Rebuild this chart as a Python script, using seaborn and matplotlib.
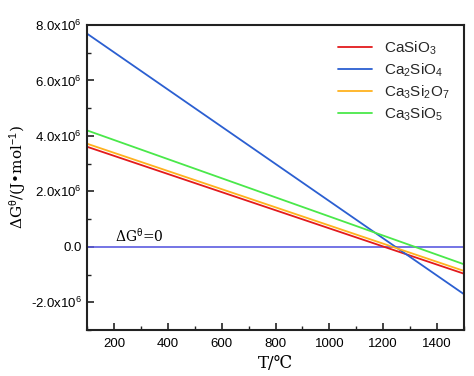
import pandas as pd
import seaborn as sns
import matplotlib.pyplot as plt
from matplotlib.ticker import MultipleLocator, FuncFormatter

# Theme and fonts
sns.set_theme(style="white")
plt.rcParams['font.family'] = ['Liberation Sans', 'DejaVu Sans']
plt.rcParams['mathtext.fontset'] = 'custom'
plt.rcParams['mathtext.rm'] = 'Liberation Sans'
plt.rcParams['mathtext.it'] = 'Liberation Sans'

# Data (straight lines between the end temperatures)
temperature = [100, 1500]
casio3 = [3.61e6, -0.97e6]
ca2sio4 = [7.69e6, -1.71e6]
ca3si2o7 = [3.72e6, -0.87e6]
ca3sio5 = [4.20e6, -0.63e6]

labels = ['CaSiO$_3$', 'Ca$_2$SiO$_4$', 'Ca$_3$Si$_2$O$_7$', 'Ca$_3$SiO$_5$']
series = [casio3, ca2sio4, ca3si2o7, ca3sio5]
colors = ['#e31a1c', '#2b5fd1', '#ffb21f', '#4ae84a']

frames = []
for lab, vals in zip(labels, series):
    frames.append(pd.DataFrame({'T': temperature, 'dG': vals, 'Phase': lab}))
df = pd.concat(frames, ignore_index=True)

fig, ax = plt.subplots(figsize=(4.74, 3.76), dpi=100)

sns.lineplot(data=df, x='T', y='dG', hue='Phase', palette=dict(zip(labels, colors)),
             linewidth=1.3, ax=ax)

# zero reference line
ax.axhline(0, color='#5c5ce0', linewidth=1.2, zorder=1)
ax.text(204, 0.06e6, 'ΔG$^{θ}$=0', family=['DejaVu Serif'], fontsize=10,
        va='bottom', ha='left', color='black')

ax.set_xlim(100, 1500)
ax.set_ylim(-3e6, 8e6)
ax.xaxis.set_major_locator(MultipleLocator(200))
ax.xaxis.set_minor_locator(MultipleLocator(100))
ax.yaxis.set_major_locator(MultipleLocator(2e6))
ax.yaxis.set_minor_locator(MultipleLocator(1e6))


def yfmt(v, _):
    if abs(v) < 1:
        return '0.0'
    return f'{v / 1e6:.1f}x10$^{{6}}$'


ax.yaxis.set_major_formatter(FuncFormatter(yfmt))

ax.set_xlabel('T/℃', family=['DejaVu Serif'], fontsize=12, labelpad=3, color='black')
ax.set_ylabel('ΔG$^{θ}$/(J•mol$^{-1}$)', family=['DejaVu Serif'], fontsize=11,
              labelpad=2, color='black')

for side, spine in ax.spines.items():
    spine.set_color('#222222')
    spine.set_linewidth(1.5)

ax.tick_params(axis='both', which='major', direction='in', length=5, width=1.2,
               color='#222222', labelcolor='black', labelsize=9.5,
               bottom=True, left=True, top=False, right=False)
ax.tick_params(axis='x', which='major', pad=6)
ax.tick_params(axis='both', which='minor', direction='in', length=3, width=1.0,
               color='#222222', bottom=True, left=True, top=False, right=False)

ax.legend(title=None, loc='upper right', fontsize=11, frameon=False,
          handlelength=2.2, labelspacing=0.3, borderaxespad=0.55)

plt.subplots_adjust(left=0.1835, right=0.979, bottom=0.1223, top=0.9335)
plt.savefig('out.png', dpi=100)
